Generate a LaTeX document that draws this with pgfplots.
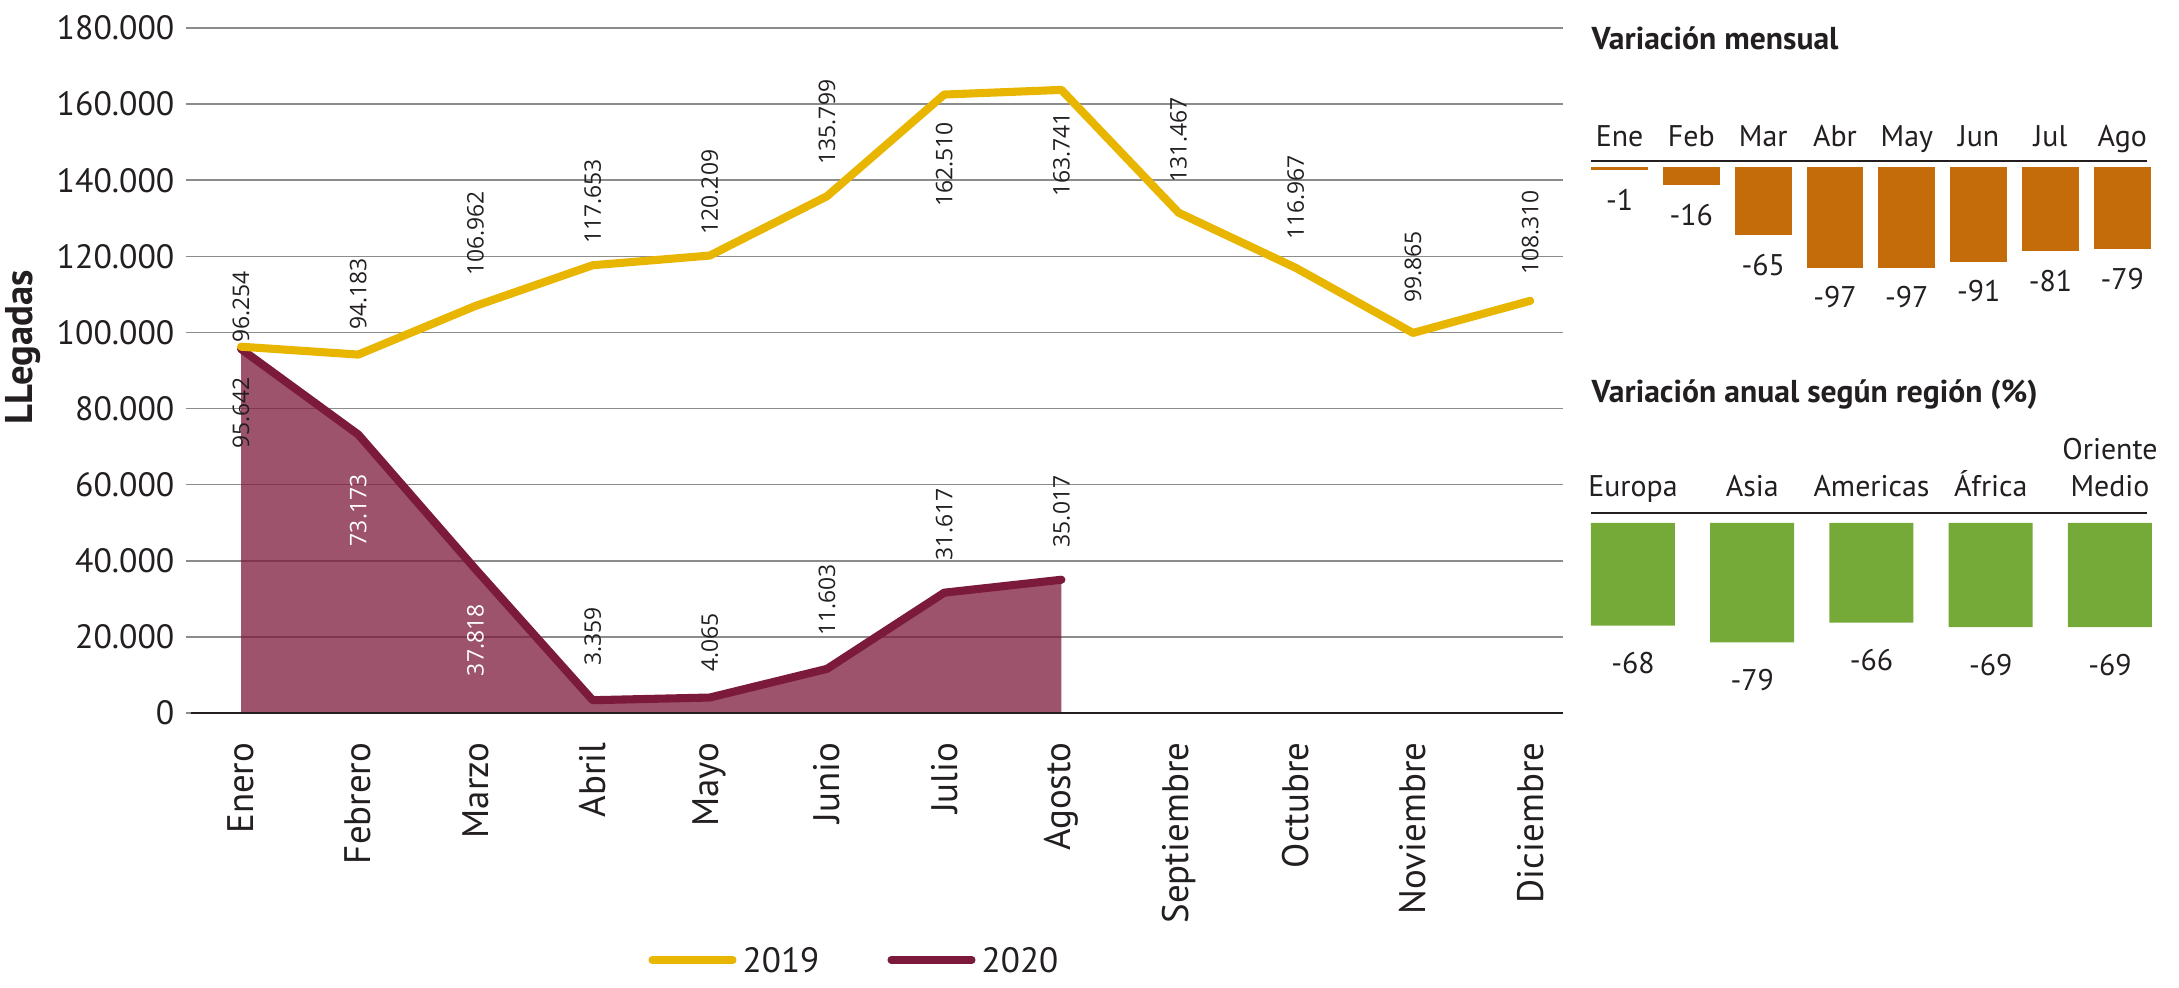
\documentclass[border=0pt]{standalone}
\usepackage{fontspec}
\setmainfont{PT Sans}
\newfontfamily\lblfont{Open Sans}
\usepackage{pgfplots}
\pgfplotsset{compat=1.18}

\definecolor{oro}{RGB}{232,182,0}
\definecolor{granate}{RGB}{123,26,58}
\definecolor{naranja}{RGB}{197,108,10}
\definecolor{verde}{RGB}{117,170,57}
\definecolor{rejilla}{RGB}{140,140,140}
\definecolor{texto}{RGB}{35,31,32}

\begin{document}
\begin{tikzpicture}[x=1cm,y=1cm,
  lab/.style={rotate=90, inner sep=0pt, font=\lblfont\fontsize{6.5}{7}\selectfont, text=texto}]
\path[use as bounding box] (0,0) rectangle (21.79,9.87);

% ---- llegadas mensuales 2019 / 2020
\begin{axis}[
  at={(1.86cm,2.74cm)}, anchor=south west, scale only axis,
  width=13.77cm, height=6.85cm,
  xmin=-0.47, xmax=11.28, ymin=0, ymax=180000,
  enlargelimits=false, clip=false,
  axis line style={draw=none}, major tick length=0pt,
  ymajorgrids, grid style={rejilla, line width=0.45pt},
  ytick={0,20000,...,180000}, scaled y ticks=false,
  /pgf/number format/fixed,
  /pgf/number format/precision=0,
  /pgf/number format/1000 sep={.},
  /pgf/number format/assume math mode=true,
  yticklabel style={font=\fontsize{9.6}{10}\selectfont, text=texto, anchor=east, inner sep=0pt, xshift=-0.11cm},
  xtick={0,...,11},
  xticklabels={Enero,Febrero,Marzo,Abril,Mayo,Junio,Julio,Agosto,Septiembre,Octubre,Noviembre,Diciembre},
  xticklabel style={rotate=90, anchor=east, inner sep=0pt, font=\fontsize{10.5}{11}\selectfont, text=texto},
  xticklabel shift=0.29cm,
  ylabel={LLegadas},
  ylabel style={font=\bfseries\fontsize{11}{12}\selectfont, text=texto, at={(axis description cs:-0.118,0.534)}, anchor=center},
]
\addplot[draw=none, fill=granate, fill opacity=0.75] coordinates {
  (0,95642) (1,73173) (2,37818) (3,3359) (4,4065) (5,11603) (6,31617) (7,35017)} \closedcycle;
\addplot[granate, line width=2.3pt, line cap=round, line join=round] coordinates {
  (0,95642) (1,73173) (2,37818) (3,3359) (4,4065) (5,11603) (6,31617) (7,35017)};
\addplot[oro, line width=2.3pt, line cap=round, line join=round] coordinates {
  (0,96254) (1,94183) (2,106962) (3,117653) (4,120209) (5,135799)
  (6,162510) (7,163741) (8,131467) (9,116967) (10,99865) (11,108310)};
\draw[texto, line width=0.75pt] (axis cs:-0.43,0) -- (axis cs:11.28,0);

% etiquetas 2019
\node[lab, anchor=west, xshift=-0.1cm] at (axis cs:0,99700) {96.254};
\node[lab, anchor=west] at (axis cs:1,100600) {94.183};
\node[lab, anchor=west] at (axis cs:2,114700) {106.962};
\node[lab, anchor=west] at (axis cs:3,123200) {117.653};
\node[lab, anchor=west] at (axis cs:4,125600) {120.209};
\node[lab, anchor=west] at (axis cs:5,144000) {135.799};
\node[lab, anchor=east] at (axis cs:6,155400) {162.510};
\node[lab, anchor=east] at (axis cs:7,158100) {163.741};
\node[lab, anchor=west] at (axis cs:8,139300) {131.467};
\node[lab, anchor=west] at (axis cs:9,124200) {116.967};
\node[lab, anchor=west] at (axis cs:10,107700) {99.865};
\node[lab, anchor=west] at (axis cs:11,115000) {108.310};
% etiquetas 2020
\node[lab, anchor=east, xshift=-0.1cm] at (axis cs:0,91000) {95.642};
\node[lab, anchor=east, text=white] at (axis cs:1,62800) {73.173};
\node[lab, anchor=east, text=white, xshift=0.09cm] at (axis cs:2,26300) {37.818};
\node[lab, anchor=west] at (axis cs:3,12300) {3.359};
\node[lab, anchor=west] at (axis cs:4,10700) {4.065};
\node[lab, anchor=west] at (axis cs:5,20200) {11.603};
\node[lab, anchor=west] at (axis cs:6,40000) {31.617};
\node[lab, anchor=west] at (axis cs:7,43400) {35.017};
\end{axis}

% ---- variación mensual
\begin{axis}[
  at={(15.91cm,7.07cm)}, anchor=south west, scale only axis,
  width=5.60cm, height=1.19cm,
  xmin=-0.397, xmax=7.40, ymin=-110, ymax=7,
  enlargelimits=false, clip=false,
  axis line style={draw=none}, major tick length=0pt, ytick=\empty,
  ybar, bar width=0.55cm,
  xtick={0,...,7}, xticklabels={Ene,Feb,Mar,Abr,May,Jun,Jul,Ago},
  xticklabel pos=right,
  xticklabel style={anchor=base, inner sep=0pt, yshift=0.14cm, font=\fontsize{8.5}{9}\selectfont, text=texto},
  point meta=explicit symbolic,
  nodes near coords,
  every node near coord/.append style={anchor=north, inner sep=0pt, yshift=-0.19cm, font=\fontsize{8.5}{9}\selectfont, text=texto},
]
\addplot[fill=naranja, draw=naranja, line width=0.5pt] coordinates {
  (0,-1) [-1] (1,-16) [-16] (2,-65) [-65] (3,-97) [-97]
  (4,-97) [-97] (5,-91) [-91] (6,-81) [-81] (7,-79) [-79]};
\draw[texto, line width=0.6pt] (axis cs:-0.397,7) -- (axis cs:7.35,7);
\end{axis}
\node[anchor=base west, inner sep=0pt, font=\bfseries\fontsize{9}{10}\selectfont, text=texto] at (15.91,9.37) {Variación mensual};

% ---- variación anual según región
\begin{axis}[
  at={(15.91cm,3.13cm)}, anchor=south west, scale only axis,
  width=5.60cm, height=1.61cm,
  xmin=-0.352, xmax=4.344, ymin=-100, ymax=6.6,
  enlargelimits=false, clip=false,
  axis line style={draw=none}, major tick length=0pt, ytick=\empty,
  ybar, bar width=0.84cm,
  xtick={0,...,4}, xticklabels={Europa,Asia,Americas,África,Oriente\\Medio},
  xticklabel pos=right,
  xticklabel style={anchor=south, align=center, text depth=0.22em, inner sep=0pt, yshift=0.08cm, font=\fontsize{8.5}{10.5}\selectfont, text=texto},
  point meta=explicit symbolic,
  nodes near coords,
  every node near coord/.append style={anchor=north, inner sep=0pt, yshift=-0.26cm, font=\fontsize{8.5}{9}\selectfont, text=texto},
]
\addplot[fill=verde, draw=none] coordinates {
  (0,-68) [-68] (1,-79) [-79] (2,-66) [-66] (3,-69) [-69] (4,-69) [-69]};
\draw[texto, line width=0.6pt] (axis cs:-0.352,6.6) -- (axis cs:4.31,6.6);
\end{axis}
\node[anchor=base west, inner sep=0pt, font=\bfseries\fontsize{9}{10}\selectfont, text=texto] at (15.91,5.84) {Variación anual según región (\%)};

% ---- leyenda
\draw[oro, line width=2pt, line cap=round] (6.52,0.27) -- (7.33,0.27);
\node[anchor=west, inner sep=0pt, font=\fontsize{10}{11}\selectfont, text=texto] at (7.42,0.27) {2019};
\draw[granate, line width=2pt, line cap=round] (8.91,0.27) -- (9.72,0.27);
\node[anchor=west, inner sep=0pt, font=\fontsize{10}{11}\selectfont, text=texto] at (9.81,0.27) {2020};
\end{tikzpicture}
\end{document}
